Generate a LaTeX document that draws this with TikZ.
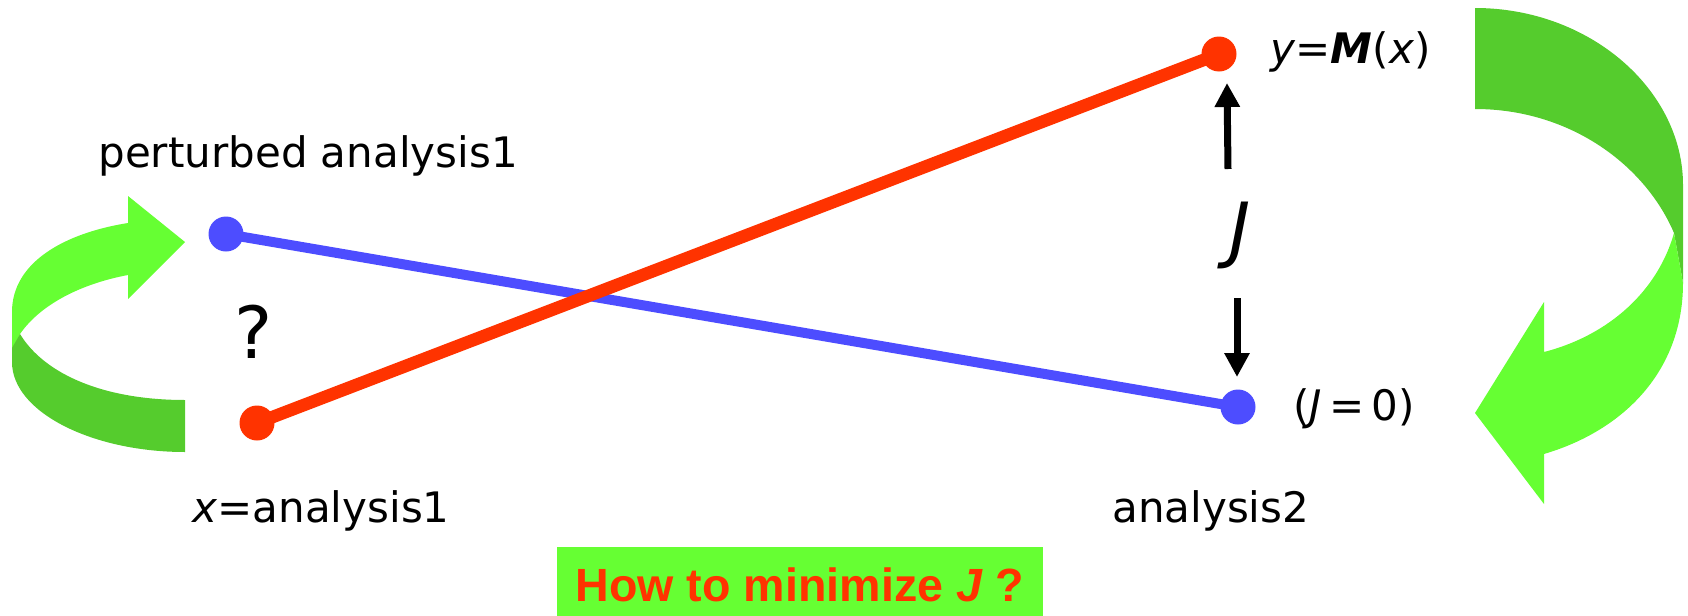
\documentclass[tikz,border=0pt]{standalone}
\usepackage{fontspec}
\setmainfont{DejaVu Sans}
\newfontfamily\boxfont{Liberation Sans}
\usetikzlibrary{arrows.meta,backgrounds}
\definecolor{lred}{HTML}{FF3300}
\definecolor{lblue}{HTML}{4D4DFF}
\definecolor{lgreen}{HTML}{66FF33}
\definecolor{dgreen}{HTML}{55CC2D}
\begin{document}
\begin{tikzpicture}[x=0.5pt,y=-0.5pt,
 dotr/.style={circle,fill=lred,inner sep=0pt,minimum size=17.5pt},
 dotb/.style={circle,fill=lblue,inner sep=0pt,minimum size=17.5pt},
 lbl/.style={inner sep=0pt,font=\fontsize{21}{25}\selectfont},
 big/.style={inner sep=0pt,font=\fontsize{36}{42}\selectfont},
 jarrow/.style={line width=3.5pt,-{Triangle[width=12pt,length=12pt]}},
 redline/.style={lred,line width=6.3pt},
 blueline/.style={lblue,line width=5pt},
]
\useasboundingbox (0,0) rectangle (1688,616);

% left curved arrow
\fill[lgreen] (128,223) .. controls (65,233) and (12,262) .. (12,312) -- (12,350) -- (20,334)
  .. controls (40,305) and (80,284) .. (128,275) -- (128,299) -- (185,242) -- (128,196) -- cycle;
\fill[dgreen] (20,334) -- (12,348) -- (12,362) .. controls (12,412) and (92,452) .. (185,452)
  -- (185,400) .. controls (105,400) and (45,375) .. (20,334) -- cycle;

% right curved arrow
\fill[dgreen] (1475,8) .. controls (1590,8) and (1683,90) .. (1683,185) -- (1683,283) -- (1674,233)
  .. controls (1645,165) and (1570,109) .. (1475,109) -- cycle;
\fill[lgreen] (1674,233) -- (1683,283) .. controls (1683,370) and (1625,430) .. (1544,454)
  -- (1544,504) -- (1475,413) -- (1544,302) -- (1544,352)
  .. controls (1610,335) and (1658,290) .. (1674,233) -- cycle;

% dots
\node[dotb] (pa) at (226,234) {};
\node[dotb] (a2d) at (1238,407) {};
\node[dotr] (xa) at (257,423) {};
\node[dotr] (ym) at (1219,54) {};

\begin{scope}[on background layer]
\draw[blueline] (pa.center) -- (a2d.center);
\draw[redline] (xa.center) -- (ym.center);
\end{scope}

% J arrows
\coordinate (u1) at (1228,169);
\coordinate (u2) at (1227,83);
\coordinate (d1) at (1237,298);
\coordinate (d2) at (1237,377);
\draw[jarrow] (u1) -- (u2);
\draw[jarrow] (d1) -- (d2);

% labels
\node[lbl,anchor=base west] (pert) at (98,167) {perturbed analysis1};
\node[lbl,anchor=base west] (xlab) at (192,522) {\textit{x}=analysis1};
\node[lbl,anchor=base west] (a2) at (1112,522) {analysis2};
\node[lbl,anchor=base west] (j0) at (1293,420) {(\textit{J}\,=\,0)};
\node[lbl,anchor=base west] (ylab) at (1270,63) {\textit{y}=\textbf{\textit{M}}(\textit{x})};
\node[big] (J) at (1240,235) {\textit{J}};
\node[big,anchor=base] (q) at (254,358) {?};

% bottom box
\node[fill=lgreen, minimum width=243pt, minimum height=34.5pt, text height=20pt, text depth=0pt,
  inner sep=0pt, text=lred, font=\boxfont\bfseries\fontsize{23.3}{27}\selectfont]
  (box) at (800,581.5) {How to minimize \textit{J} ?};
\end{tikzpicture}
\end{document}
